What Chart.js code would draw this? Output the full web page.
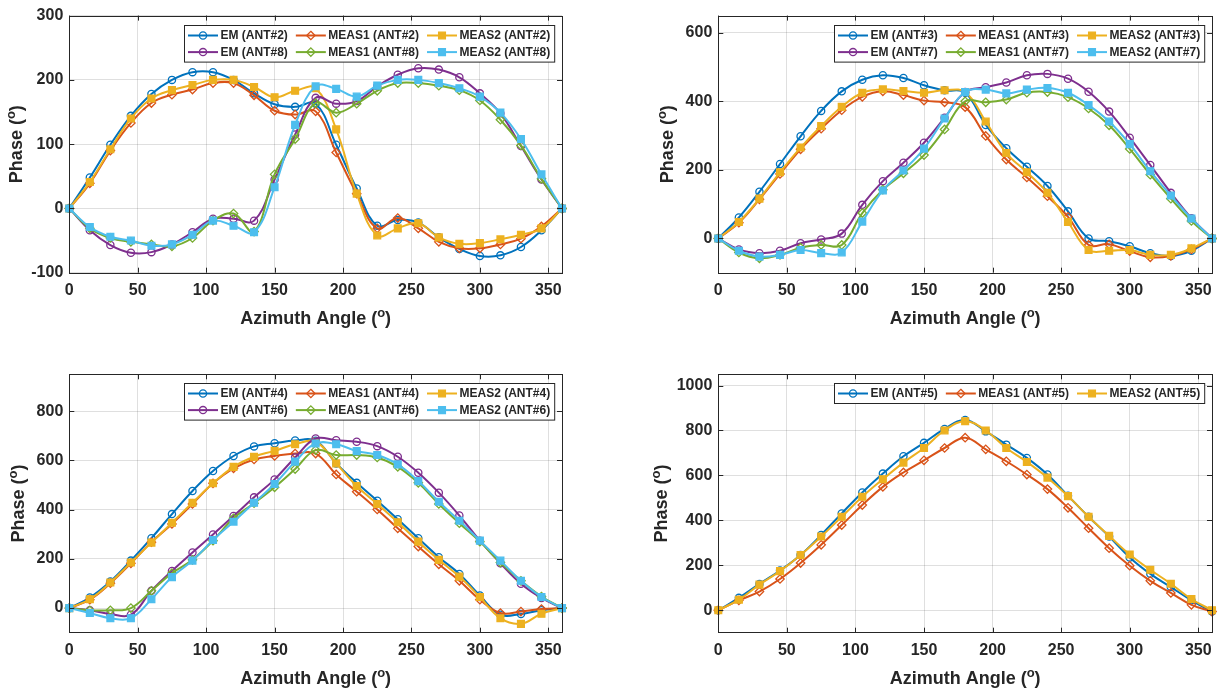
<!DOCTYPE html>
<html><head><meta charset="utf-8">
<script src="https://cdn.jsdelivr.net/npm/chart.js@4/dist/chart.umd.min.js"></script>
<style>
html,body{margin:0;padding:0;background:#fff;}
#wrap{position:relative;width:1225px;height:691px;overflow:hidden;background:#fff}
canvas{position:absolute}
</style></head><body><div id="wrap">
<canvas id="c1"></canvas><canvas id="c2"></canvas><canvas id="c3"></canvas><canvas id="c4"></canvas>
</div>
<script>
// ---------- DATA ----------
const angles = [0,15,30,45,60,75,90,105,120,135,150,165,180,195,210,225,240,255,270,285,300,315,330,345,360];
const xTicks = [0,50,100,150,200,250,300,350];

// Plot 1: ANT#2 / ANT#8
const labels1 = ['EM (ANT#2)','MEAS1 (ANT#2)','MEAS2 (ANT#2)','EM (ANT#8)','MEAS1 (ANT#8)','MEAS2 (ANT#8)'];
const em2     = [0,48,99,144,178,200,212,212,200,179,162,158,163,99,31,-27,-18,-22,-45,-63,-74,-73,-60,-34,0];
const meas1_2 = [0,39,90,133,164,177,185,195,195,176,152,146,151,87,23,-31,-15,-31,-52,-62,-62,-56,-47,-28,0];
const meas2_2 = [0,41,92,140,171,184,192,200,200,189,173,183,187,123,23,-42,-31,-23,-45,-55,-54,-48,-41,-31,0];
const em8     = [0,-34,-57,-69,-68,-56,-37,-16,-16,-19,45,115,172,163,167,190,208,218,216,204,179,148,97,45,0];
const meas1_8 = [0,-31,-46,-52,-56,-59,-46,-19,-8,-36,53,108,164,149,163,183,195,195,191,184,168,138,98,46,0];
const meas2_8 = [0,-29,-44,-50,-58,-56,-41,-19,-27,-37,33,130,190,186,174,191,200,200,195,187,174,149,108,53,0];
const yTicks1 = [-100,0,100,200,300];

// Plot 2: ANT#3 / ANT#7
const labels2 = ['EM (ANT#3)','MEAS1 (ANT#3)','MEAS2 (ANT#3)','EM (ANT#7)','MEAS1 (ANT#7)','MEAS2 (ANT#7)'];
const em3     = [0,61,136,217,298,372,429,463,476,468,447,432,425,331,263,209,153,79,0,-8,-23,-43,-51,-36,0];
const meas1_3 = [0,46,114,188,260,320,374,413,429,418,402,397,383,299,230,178,123,63,-19,-17,-37,-55,-51,-32,0];
const meas2_3 = [0,48,116,193,265,328,384,425,435,430,425,432,427,341,249,193,133,48,-34,-36,-34,-48,-48,-29,0];
const em7     = [0,-32,-43,-36,-14,-3,14,98,167,221,279,352,427,441,455,476,480,466,428,370,294,214,133,59,0];
const meas1_7 = [0,-41,-58,-48,-27,-19,-19,74,142,190,243,318,400,397,405,425,427,412,379,330,261,186,116,51,0];
const meas2_7 = [0,-36,-53,-48,-34,-43,-41,49,140,198,262,350,427,434,423,434,439,425,389,341,275,196,125,58,0];
const yTicks2 = [0,200,400,600];

// Plot 3: ANT#4 / ANT#6
const labels3 = ['EM (ANT#4)','MEAS1 (ANT#4)','MEAS2 (ANT#4)','EM (ANT#6)','MEAS1 (ANT#6)','MEAS2 (ANT#6)'];
const em4     = [0,43,108,193,284,382,476,557,618,657,670,681,680,588,509,436,361,284,207,139,51,-27,-24,-9,0];
const meas1_4 = [0,34,101,182,268,342,423,507,568,604,618,628,628,543,473,401,324,250,178,111,34,-20,-14,-4,0];
const meas2_4 = [0,36,104,185,266,347,428,507,574,615,639,666,676,588,496,423,349,270,196,128,45,-41,-64,-23,0];
const em6     = [0,-9,-24,-27,70,151,226,299,374,450,523,612,689,682,676,658,615,550,469,376,274,182,99,41,0];
const meas1_6 = [0,-9,-9,0,70,142,196,274,365,426,491,565,642,622,622,612,574,509,423,345,270,185,111,47,0];
const meas2_6 = [0,-20,-41,-41,36,126,193,277,351,428,504,595,669,666,638,622,584,516,432,355,274,193,111,45,0];
const yTicks3 = [0,200,400,600,800];

// Plot 4: ANT#5
const labels4 = ['EM (ANT#5)','MEAS1 (ANT#5)','MEAS2 (ANT#5)'];
const em5     = [0,55,117,177,246,335,431,524,608,685,745,807,847,796,737,678,604,509,416,328,235,162,103,44,-6];
const meas1_5 = [0,44,83,139,210,291,379,468,549,613,667,722,768,716,663,604,539,456,365,276,198,131,77,24,-6];
const meas2_5 = [0,47,114,174,246,328,416,505,583,657,722,800,841,800,722,660,590,508,416,331,248,180,118,50,0];
const yTicks4 = [0,200,400,600,800,1000];

const xTitle = 'Azimuth Angle (';
const yTitle = 'Phase (';

// ---------- STYLE ----------
const COLORS  = ['#0072BD','#D95319','#EDB120','#7E2F8E','#77AC30','#4DBEEE'];
const MARKERS = ['circle','rectRot','rect','circle','rectRot','rect'];
const FILLED  = [false,false,true,false,false,true];
const RADII   = [3.6,4.2,4.8,3.6,4.2,4.8];
const AX = '#262626';
const FONT = '"Liberation Sans", Arial, sans-serif';

function drawMarker(ctx, style, r, x, y, color, filled) {
  ctx.save();
  ctx.beginPath();
  if (style === 'circle') { ctx.arc(x, y, r, 0, Math.PI*2); }
  else if (style === 'rect') { const s = r*Math.SQRT1_2; ctx.rect(x-s, y-s, 2*s, 2*s); }
  else { ctx.moveTo(x, y-r); ctx.lineTo(x+r, y); ctx.lineTo(x, y+r); ctx.lineTo(x-r, y); ctx.closePath(); }
  ctx.lineWidth = 1.3; ctx.strokeStyle = color;
  if (filled) { ctx.fillStyle = color; ctx.fill(); }
  ctx.stroke();
  ctx.restore();
}

function drawSupText(ctx, text, cx, cy) {
  ctx.font = 'bold 18px ' + FONT;
  const w1 = ctx.measureText(text).width;
  ctx.font = 'bold 13px ' + FONT;
  const w2 = ctx.measureText('o').width;
  ctx.font = 'bold 18px ' + FONT;
  const w3 = ctx.measureText(')').width;
  let x = cx - (w1 + w2 + w3)/2;
  ctx.textAlign = 'left'; ctx.textBaseline = 'middle'; ctx.fillStyle = AX;
  ctx.fillText(text, x, cy);
  ctx.font = 'bold 13px ' + FONT;
  ctx.fillText('o', x + w1, cy - 6);
  ctx.font = 'bold 18px ' + FONT;
  ctx.fillText(')', x + w1 + w2, cy);
}

const framePlugin = {
  id: 'frame',
  afterDatasetsDraw(chart) {
    const o = chart.options.plugins.frame;
    const ctx = chart.ctx, a = chart.chartArea;
    const xs = chart.scales.x, ys = chart.scales.y;
    ctx.save();
    ctx.strokeStyle = AX; ctx.lineWidth = 1;
    const L = 5;
    ctx.beginPath();
    xTicks.forEach(v => { const px = Math.round(xs.getPixelForValue(v)) + 0.5;
      ctx.moveTo(px, a.bottom); ctx.lineTo(px, a.bottom - L);
      ctx.moveTo(px, a.top); ctx.lineTo(px, a.top + L); });
    o.yTicks.forEach(v => { const py = Math.round(ys.getPixelForValue(v)) + 0.5;
      ctx.moveTo(a.left, py); ctx.lineTo(a.left + L, py);
      ctx.moveTo(a.right, py); ctx.lineTo(a.right - L, py); });
    ctx.stroke();
    ctx.strokeRect(Math.round(a.left)+0.5, Math.round(a.top)+0.5, Math.round(a.right-a.left), Math.round(a.bottom-a.top));
    ctx.restore();
  },
  afterDraw(chart) {
    const o = chart.options.plugins.frame;
    const ctx = chart.ctx, a = chart.chartArea;
    ctx.save();
    drawSupText(ctx, xTitle, (a.left + a.right)/2, o.xTitleY);
    ctx.save();
    ctx.translate(o.yTitleX, (a.top + a.bottom)/2);
    ctx.rotate(-Math.PI/2);
    drawSupText(ctx, yTitle, 0, 0);
    ctx.restore();
    // legend
    const ds = chart.data.datasets;
    const n = ds.length, cols = 3, rows = Math.ceil(n/cols);
    ctx.font = 'bold 12px ' + FONT;
    const colW = [];
    for (let c = 0; c < cols; c++) {
      let m = 0;
      for (let r = 0; r < rows; r++) { const i = r*cols + c; if (i < n) m = Math.max(m, ctx.measureText(ds[i].label).width); }
      colW.push(m);
    }
    const padL = 3.5, lineL = 30, txtGap = 2.5, colGap = 8, padR = 4.5, rowH = 16.6;
    let boxW = padL + padR;
    colW.forEach((w, c) => { boxW += lineL + txtGap + w + (c < cols-1 ? colGap : 0); });
    const boxH = rows*rowH + 3.4;
    const bx = Math.round(a.right - 8 - boxW) + 0.5, by = Math.round(a.top + 9) + 0.5;
    ctx.fillStyle = '#fff';
    ctx.fillRect(bx, by, boxW, boxH);
    ctx.strokeStyle = AX; ctx.lineWidth = 1;
    ctx.strokeRect(bx, by, boxW, boxH);
    for (let i = 0; i < n; i++) {
      const r = Math.floor(i/cols), c = i % cols;
      let x = bx + padL;
      for (let k = 0; k < c; k++) x += lineL + txtGap + colW[k] + colGap;
      const y = by + 10 + r*rowH;
      ctx.strokeStyle = ds[i].borderColor; ctx.lineWidth = 2;
      ctx.beginPath(); ctx.moveTo(x, y); ctx.lineTo(x + lineL, y); ctx.stroke();
      drawMarker(ctx, ds[i].pointStyle, ds[i].pointRadius, x + lineL/2, y, ds[i].borderColor, FILLED[i]);
      ctx.fillStyle = AX; ctx.font = 'bold 12px ' + FONT;
      ctx.textAlign = 'left'; ctx.textBaseline = 'middle';
      ctx.fillText(ds[i].label, x + lineL + txtGap, y + 0.5);
    }
    ctx.restore();
  }
};

function makeChart(id, pos, area, labels, series, yMin, yMax, yTicks, xTitleY, yTitleX) {
  const cv = document.getElementById(id);
  cv.width = pos.w; cv.height = pos.h;
  cv.style.left = pos.x + 'px'; cv.style.top = pos.y + 'px';
  cv.style.width = pos.w + 'px'; cv.style.height = pos.h + 'px';
  const datasets = series.map((s, i) => ({
    label: labels[i],
    data: angles.map((a, j) => ({x: a, y: s[j]})),
    borderColor: COLORS[i],
    backgroundColor: FILLED[i] ? COLORS[i] : 'rgba(0,0,0,0)',
    pointBackgroundColor: FILLED[i] ? COLORS[i] : 'rgba(0,0,0,0)',
    pointBorderColor: COLORS[i],
    pointStyle: MARKERS[i],
    pointRadius: RADII[i],
    pointBorderWidth: 1.3,
    borderWidth: 2,
    tension: 0.4,
    fill: false,
    order: -i,
    clip: 10
  }));
  const tickFont = {family: FONT, size: 16, weight: 'bold'};
  return new Chart(cv, {
    type: 'line',
    data: {datasets},
    options: {
      responsive: false, animation: false, events: [],
      layout: {padding: {left: 0, top: area.t, right: pos.w - area.r, bottom: 0}},
      plugins: {legend: {display: false}, tooltip: {enabled: false},
                frame: {yTicks, xTitleY, yTitleX}},
      scales: {
        x: {type: 'linear', min: 0, max: 360,
            afterBuildTicks: sc => { sc.ticks = xTicks.map(v => ({value: v})); },
            afterFit: sc => { sc.height = pos.h - area.b; },
            grid: {color: 'rgba(38,38,38,0.15)', drawTicks: false, lineWidth: 1},
            border: {display: false},
            ticks: {font: tickFont, color: AX, padding: 8, maxRotation: 0, autoSkip: false,
                    callback: v => String(v)}},
        y: {type: 'linear', min: yMin, max: yMax,
            afterBuildTicks: sc => { sc.ticks = yTicks.map(v => ({value: v})); },
            afterFit: sc => { sc.width = area.l; },
            grid: {color: 'rgba(38,38,38,0.15)', drawTicks: false, lineWidth: 1},
            border: {display: false},
            ticks: {font: tickFont, color: AX, padding: 6, autoSkip: false,
                    callback: v => String(v)}}
      }
    },
    plugins: [framePlugin]
  });
}

makeChart('c1', {x:0, y:0, w:612, h:345}, {l:69.3, t:13.3, r:562, b:272.7}, labels1,
  [em2, meas1_2, meas2_2, em8, meas1_8, meas2_8], -100, 300, yTicks1, 319, 17);
makeChart('c2', {x:612, y:0, w:613, h:345}, {l:106.3, t:13.3, r:600, b:272.7}, labels2,
  [em3, meas1_3, meas2_3, em7, meas1_7, meas2_7], -100, 650, yTicks2, 319, 56);
makeChart('c3', {x:0, y:345, w:612, h:346}, {l:69.3, t:29.3, r:562, b:287.7}, labels3,
  [em4, meas1_4, meas2_4, em6, meas1_6, meas2_6], -100, 950, yTicks3, 334, 19);
makeChart('c4', {x:612, y:345, w:613, h:346}, {l:106.3, t:29.3, r:600, b:287.7}, labels4,
  [em5, meas1_5, meas2_5], -100, 1050, yTicks4, 334, 50);
</script>
</body></html>
